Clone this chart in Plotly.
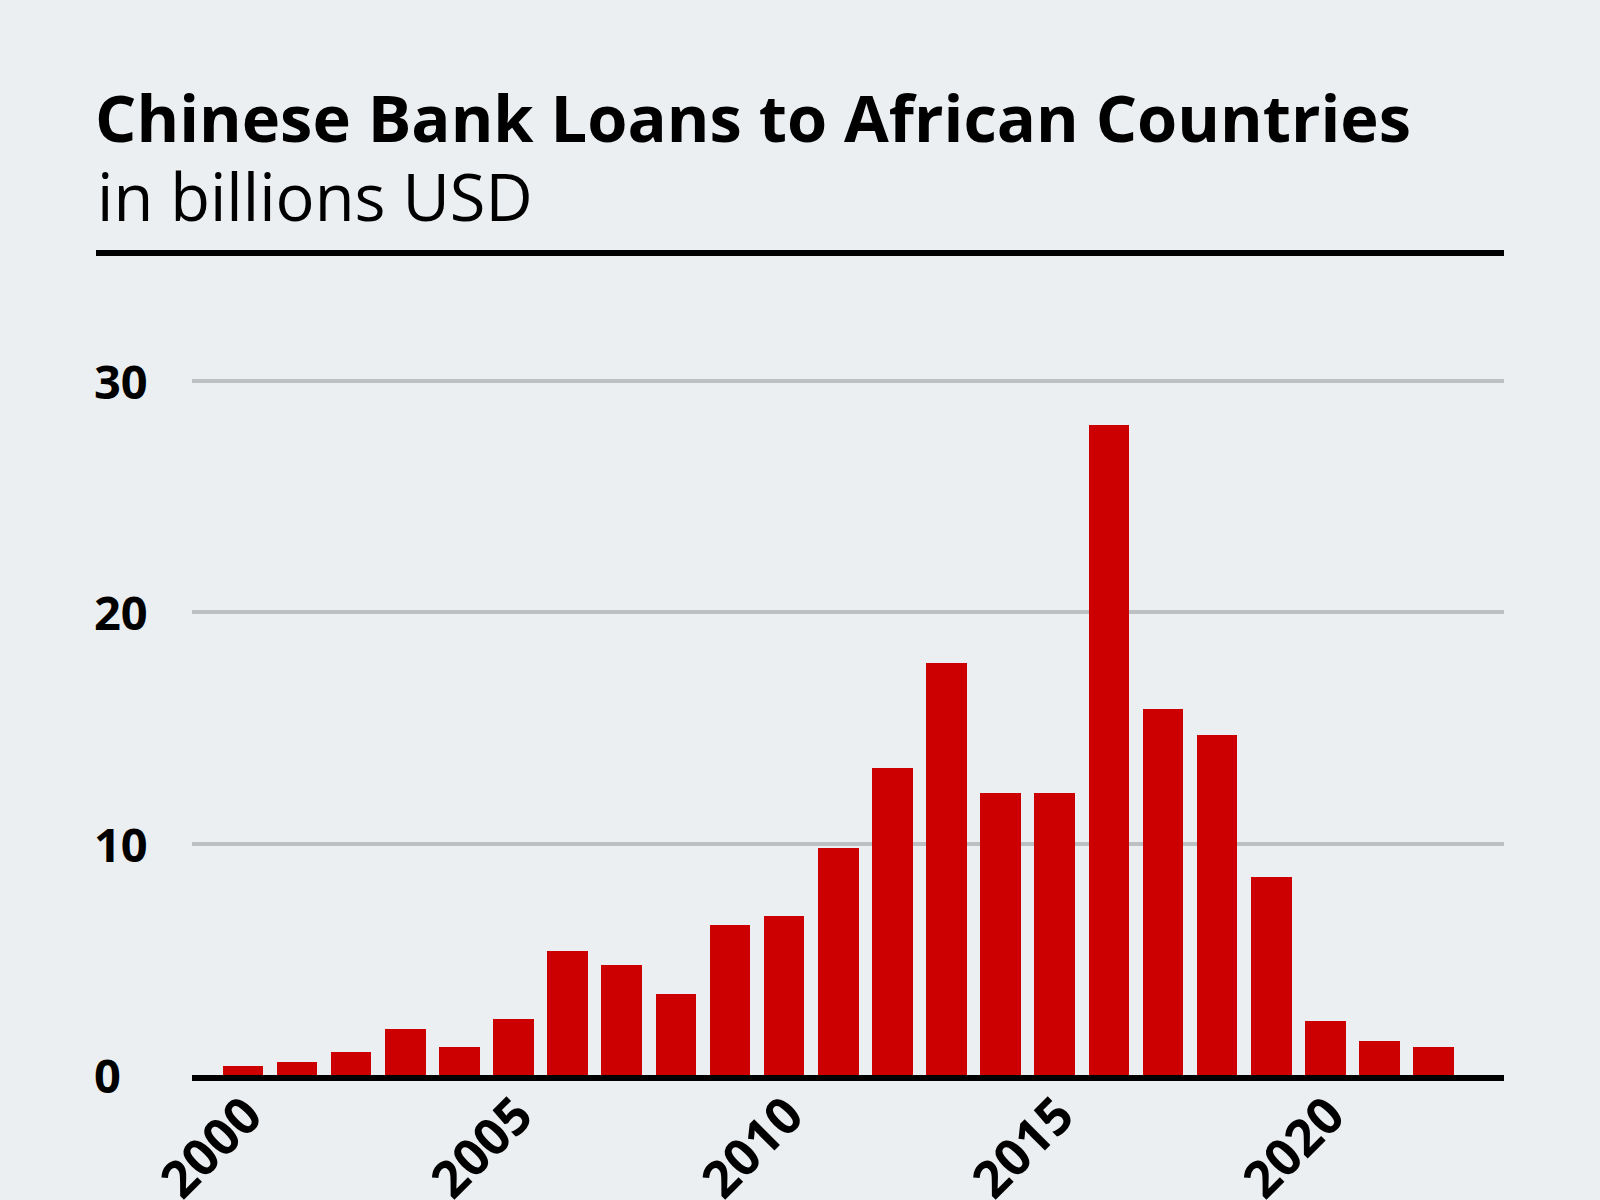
import plotly.graph_objects as go

years = list(range(2000, 2023))
loans = [0.40, 0.57, 1.01, 1.98, 1.19, 2.42, 5.37, 4.76, 3.48, 6.48, 6.87, 9.82,
         13.26, 17.8, 12.2, 12.2, 28.06, 15.8, 14.7, 8.55, 2.33, 1.45, 1.23]
x_tickvals = [2000, 2005, 2010, 2015, 2020]
y_tickvals = [0, 10, 20, 30]
title = "Chinese Bank Loans to African Countries"
subtitle = "in billions USD"

BG = "#eceff1"
BAR = "#cc0000"
FONT = "Open Sans"

W, H = 1600, 1200
L, R, T, B = 192, 96, 300, 124.5
ph = H - T - B
pw = W - L - R


def py(pix):
    return (H - B - pix) / ph


def px(pix):
    return (pix - L) / pw


fig = go.Figure()
fig.add_trace(go.Bar(x=years, y=loans, marker=dict(color=BAR, line=dict(width=0)), width=0.75))

annotations = [
    dict(text="<b>" + title + "</b>", xref="paper", yref="paper", x=px(93), y=py(117),
         xanchor="left", yanchor="middle", showarrow=False,
         font=dict(family=FONT, size=65, color="#000")),
    dict(text=subtitle, xref="paper", yref="paper", x=px(95), y=py(196),
         xanchor="left", yanchor="middle", showarrow=False,
         font=dict(family=FONT, size=65, color="#000")),
]
for v in y_tickvals:
    annotations.append(dict(text="<b>%d</b>" % v, xref="paper", yref="y", x=px(92), y=v,
                            xanchor="left", yanchor="middle", showarrow=False,
                            font=dict(family=FONT, size=47, color="#000")))

fig.update_layout(
    width=W, height=H,
    paper_bgcolor=BG, plot_bgcolor=BG,
    margin=dict(l=L, r=R, t=T, b=B),
    showlegend=False,
    bargap=0,
    annotations=annotations,
    shapes=[dict(type="line", xref="paper", yref="paper", x0=px(96), x1=1,
                 y0=py(253), y1=py(253), line=dict(color="#000", width=6))],
    xaxis=dict(range=[1999.06, 2023.3], tickvals=x_tickvals, tickangle=-45,
               showgrid=False, zeroline=False, showline=True, linecolor="#000", linewidth=6,
               ticks="", ticklabelstandoff=-16, ticklabelshift=4, automargin=False,
               tickfont=dict(family=FONT, size=51, color="#000", weight="bold")),
    yaxis=dict(range=[0, 33.48], tickvals=y_tickvals, showticklabels=False,
               showgrid=True, gridcolor="#bcc0c3", gridwidth=4, zeroline=False,
               showline=False, ticks="", automargin=False),
)

fig.write_html("out.html", config={"displayModeBar": False},
               post_script="document.body.style.margin='0';document.body.style.overflow='hidden';")
